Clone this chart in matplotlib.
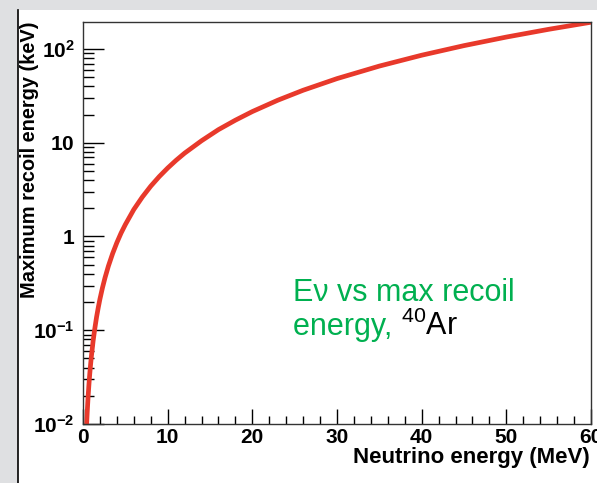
import numpy as np
import matplotlib
matplotlib.use('Agg')
import matplotlib.pyplot as plt
from matplotlib.patches import Rectangle
from matplotlib.lines import Line2D
from matplotlib.ticker import FixedLocator, NullFormatter

plt.rcParams['font.family'] = ['Liberation Sans', 'DejaVu Sans']
plt.rcParams['mathtext.fontset'] = 'custom'
plt.rcParams['mathtext.rm'] = 'Liberation Sans'
plt.rcParams['mathtext.bf'] = 'Liberation Sans:bold'

# neutrino energy (MeV) vs maximum recoil energy (keV)
e_nu = [0.43, 0.5, 0.6, 0.7, 0.8, 0.9, 1.0, 1.2, 1.4, 1.6, 1.8, 2.0, 2.3, 2.6, 3.0,
        3.5, 4.0, 4.5, 5.0, 6.0, 7.0, 8.0, 9.0, 10.0, 11.0, 12.0, 14.0, 16.0, 18.0,
        20.0, 23.0, 26.0, 30.0, 35.0, 40.0, 45.0, 50.0, 55.0, 60.0]
t_max = [0.0100, 0.0134, 0.0194, 0.0263, 0.0344, 0.0435, 0.0537, 0.0774, 0.105,
         0.138, 0.174, 0.215, 0.284, 0.363, 0.484, 0.658, 0.860, 1.09, 1.34, 1.94,
         2.63, 3.44, 4.35, 5.37, 6.50, 7.74, 10.5, 13.8, 17.4, 21.5, 28.4, 36.3,
         48.3, 65.7, 85.8, 108.6, 134.0, 162.1, 192.9]

xticks = [0, 10, 20, 30, 40, 50, 60]
yticks = [1e-2, 1e-1, 1, 10, 100]
ytick_labels = [r'$\mathbf{10^{-2}}$', r'$\mathbf{10^{-1}}$', r'$\mathbf{1}$',
                r'$\mathbf{10}$', r'$\mathbf{10^{2}}$']

W, H = 597, 483
fig = plt.figure(figsize=(W / 100, H / 100), dpi=100, facecolor='#dfe0e2')

# white slide panel with black left edge
fig.patches.append(Rectangle((18 / W, 0), 1, (H - 10) / H, transform=fig.transFigure,
                             facecolor='white', edgecolor='none', zorder=-10))
fig.lines.append(Line2D([18 / W, 18 / W], [0, (H - 10) / H], transform=fig.transFigure,
                        color='black', lw=1.2, zorder=-5))

ax = fig.add_axes([83 / W, (H - 424) / H, (591 - 83) / W, (424 - 22) / H])
ax.set_facecolor('white')
ax.plot(e_nu, t_max, color='#e8392b', lw=3.4, solid_capstyle='butt')

ax.set_yscale('log')
ax.set_xlim(0, 60)
ax.set_ylim(1e-2, 194)

ax.set_xticks(xticks)
ax.set_xticklabels([str(v) for v in xticks], fontsize=15, fontweight='bold')
ax.xaxis.set_minor_locator(FixedLocator(np.arange(0, 61, 2)))
ax.set_yticks(yticks)
ax.set_yticklabels(ytick_labels, fontsize=15)
ax.yaxis.set_minor_locator(FixedLocator([m * 10.0 ** d for d in range(-2, 3) for m in range(2, 10)]))
ax.yaxis.set_minor_formatter(NullFormatter())

ax.tick_params(axis='x', which='major', direction='in', length=11, width=1, pad=3, top=False)
ax.tick_params(axis='x', which='minor', direction='in', length=6, width=1, top=False)
ax.tick_params(axis='y', which='major', direction='in', length=15, width=1, pad=6, right=False)
ax.tick_params(axis='y', which='minor', direction='in', length=8, width=1, right=False)

for s in ax.spines.values():
    s.set_color('#333333')
    s.set_linewidth(1)

fig.text(590 / W, 1 - 458 / H, 'Neutrino energy (MeV)', ha='right', va='center',
         fontsize=16, fontweight='bold')
fig.text(30 / W, 1 - 22 / H, 'Maximum recoil energy (keV)', ha='center', va='top',
         rotation=90, fontsize=14.4, fontweight='bold')

green = '#00b050'
fig.text(293 / W, 1 - 301 / H, 'E\u03bd vs max recoil', color=green, fontsize=22,
         ha='left', va='baseline')
t = fig.text(293 / W, 1 - 335 / H, 'energy, ', color=green, fontsize=22,
             ha='left', va='baseline')
fig.canvas.draw()
bb = t.get_window_extent()
fig.text(bb.x1 / W, 1 - 335 / H, r'$^{40}$Ar', color='black', fontsize=22,
         ha='left', va='baseline')

fig.savefig('out.png', dpi=100, facecolor=fig.get_facecolor())
